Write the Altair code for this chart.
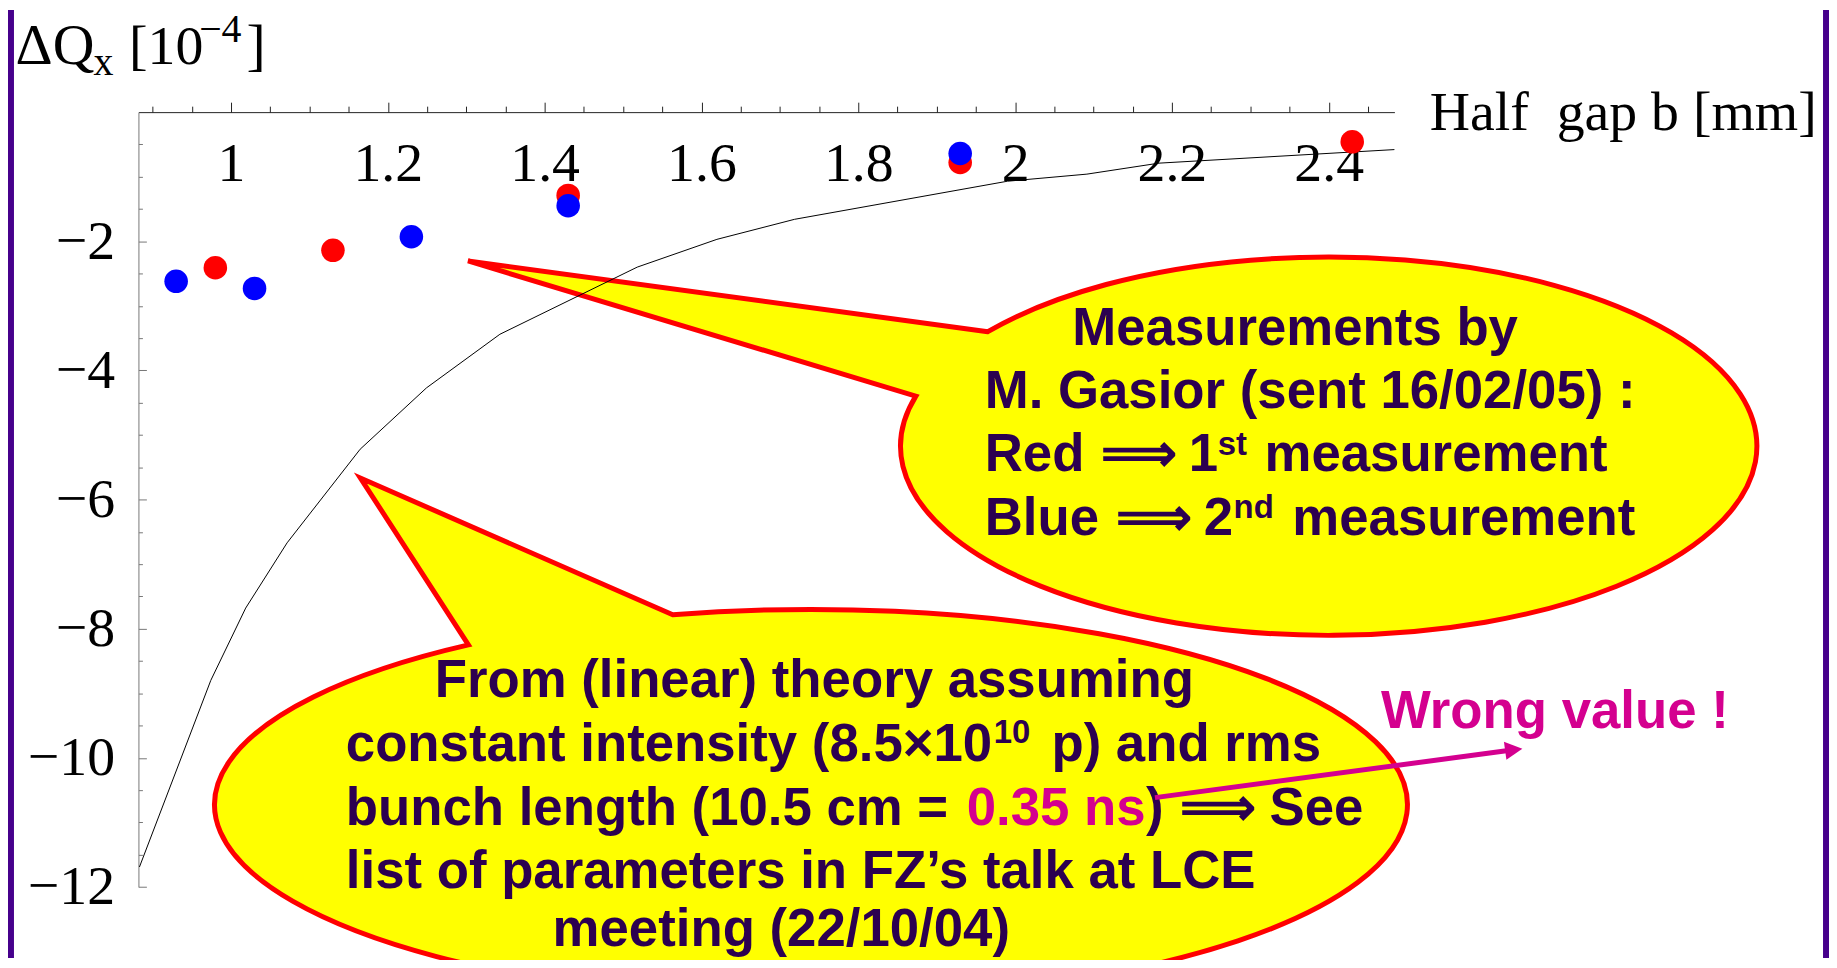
import math
import altair as alt
import pandas as pd

# ---------------- data ----------------
curve_b = [0.8832, 0.9742, 1.0187, 1.0715, 1.1647, 1.2493, 1.3429,
           1.5181, 1.6197, 1.7187, 1.9902, 2.0916, 2.1835, 2.4838]
curve_dq = [-11.69, -8.80, -7.68, -6.67, -5.22, -4.27, -3.44,
            -2.40, -1.97, -1.66, -1.07, -0.96, -0.79, -0.58]
red_b = [0.98, 1.13, 1.43, 1.93, 2.43]
red_dq = [-2.41, -2.14, -1.29, -0.78, -0.46]
blue_b = [0.93, 1.03, 1.23, 1.43, 1.93]
blue_dq = [-2.62, -2.73, -1.93, -1.45, -0.64]

x_major = [1.0, 1.2, 1.4, 1.6, 1.8, 2.0, 2.2, 2.4]
x_minor = [0.9, 0.95, 1.05, 1.1, 1.15, 1.25, 1.3, 1.35, 1.45, 1.5, 1.55,
           1.65, 1.7, 1.75, 1.85, 1.9, 1.95, 2.05, 2.1, 2.15, 2.25, 2.3,
           2.35, 2.45]
y_major = [-12, -10, -8, -6, -4, -2]
y_minor = [-11.5, -11, -10.5, -9.5, -9, -8.5, -7.5, -7, -6.5, -5.5, -5,
           -4.5, -3.5, -3, -2.5, -1.5, -1, -0.5]
x_domain = [0.8819, 2.4838]
y_domain = [-12, 0]

# ---------------- layout / styles ----------------
W, H = 1261.5, 778.3
TOTAL_W, TOTAL_H = 1829, 952
PAD_L, PAD_T = 131, 102.5
OX, OY = 8 + PAD_L, 8 + PAD_T   # page position of plot origin

SERIF = "Liberation Serif"
SANS = "Liberation Sans"
DARK = "#2C0050"
MAG = "#D4008F"
RED = "#FF0000"
YEL = "#FFFF00"
PURPLE = "#46008C"

curve_df = pd.DataFrame({"b": curve_b, "dq": curve_dq})
red_df = pd.DataFrame({"b": red_b, "dq": red_dq})
blue_df = pd.DataFrame({"b": blue_b, "dq": blue_dq})
dummy = alt.Data(values=[{"k": 0}])

xs = alt.Scale(domain=x_domain, nice=False, zero=False)
ys = alt.Scale(domain=y_domain, nice=False, zero=False)


def pos(px, py):
    return dict(x=alt.value(px - OX), y=alt.value(py - OY))


def txt(s, px, py, size, color=DARK, font=SANS, weight="bold"):
    return alt.Chart(dummy).mark_text(
        text=s, font=font, fontSize=size, fontWeight=weight, color=color,
        align="left", baseline="alphabetic"
    ).encode(**pos(px, py))


def bubble(cx, cy, rx, ry, tip, a_pt, b_pt, sweep):
    ta = math.atan2((a_pt[1] - cy) / ry, (a_pt[0] - cx) / rx)
    tb = math.atan2((b_pt[1] - cy) / ry, (b_pt[0] - cx) / rx)
    ax, ay = rx * math.cos(ta), ry * math.sin(ta)
    bx, by = rx * math.cos(tb), ry * math.sin(tb)
    tx, ty = tip[0] - cx, tip[1] - cy
    path = (f"M{ax:.2f},{ay:.2f}L{tx:.2f},{ty:.2f}L{bx:.2f},{by:.2f}"
            f"A{rx},{ry} 0 1 {sweep} {ax:.2f},{ay:.2f}Z")
    return alt.Chart(dummy).mark_point(
        shape=path, size=4, filled=True, fill=YEL, stroke=RED,
        strokeWidth=5, opacity=1
    ).encode(**pos(cx, cy))


layers = []

# purple side bands
layers.append(alt.Chart(dummy).mark_rect(color=PURPLE).encode(
    x=alt.value(8 - OX), x2=alt.value(14 - OX),
    y=alt.value(8 - OY), y2=alt.value(8 + TOTAL_H - OY)))
layers.append(alt.Chart(dummy).mark_rect(color=PURPLE).encode(
    x=alt.value(1831 - OX), x2=alt.value(1837 - OX),
    y=alt.value(8 - OY), y2=alt.value(8 + TOTAL_H - OY)))

# callout bubbles
layers.append(bubble(1334.5, 446, 430, 190, (470, 260), (989, 330), (918, 395.5), 0))
layers.append(bubble(814.5, 806, 599, 196, (362, 478), (465.6, 643.3), (672.3, 610.7), 1))

# upper bubble text
layers += [
    txt("Measurements by", 1077, 344, 53),
    txt("M. Gasior (sent 16/02/05) :", 989, 408, 53),
    txt("Red", 989, 471, 53),
    txt("\u27f9", 1106, 471, 53),
    txt("1", 1194, 471, 53),
    txt("st", 1223, 455, 33),
    txt("measurement", 1270, 471, 53),
    txt("Blue", 989, 535, 53),
    txt("\u27f9", 1121, 535, 53),
    txt("2", 1209, 535, 53),
    txt("nd", 1239, 518, 33),
    txt("measurement", 1298, 535, 53),
]

# lower bubble text
layers += [
    txt("From (linear) theory assuming", 436.6, 698.3, 53),
    txt("constant intensity (8.5\u00d710", 347.3, 762.5, 53),
    txt("10", 998, 744, 33),
    txt("p) and rms", 1056, 762.5, 53),
    txt("bunch length (10.5 cm =", 347.3, 826.7, 53),
    txt("0.35 ns", 971, 826.7, 53, color=MAG),
    txt(")", 1151, 826.7, 53),
    txt("\u27f9", 1185, 826.7, 53),
    txt("See", 1275, 826.7, 53),
    txt("list of parameters in FZ\u2019s talk at LCE", 347.3, 890, 53),
    txt("meeting (22/10/04)", 555, 948, 53),
]

# "Wrong value !" with arrow
layers.append(txt("Wrong value !", 1387, 729, 53, color=MAG))
layers.append(alt.Chart(dummy).mark_rule(color=MAG, strokeWidth=5).encode(
    x=alt.value(1160 - OX), y=alt.value(799 - OY),
    x2=alt.value(1513 - OX), y2=alt.value(752 - OY)))
layers.append(alt.Chart(dummy).mark_point(
    shape="M0,0L-16,11L-18.5,-7Z", size=4, filled=True, fill=MAG,
    strokeWidth=0, opacity=1).encode(**pos(1529, 750)))

# axis titles
layers += [
    txt("\u0394Q", 15.6, 61.7, 58, color="black", font=SERIF, weight="normal"),
    txt("x", 94, 73, 40, color="black", font=SERIF, weight="normal"),
    txt("[10", 129.5, 61.7, 56, color="black", font=SERIF, weight="normal"),
    txt("\u22124", 200, 40, 40, color="black", font=SERIF, weight="normal"),
    txt("]", 247.5, 61.7, 58, color="black", font=SERIF, weight="normal"),
    txt("Half\u00a0 gap b [mm]", 1436, 128, 56, color="black", font=SERIF, weight="normal"),
]

# theory curve + axes (major x ticks on top, y labels on the left)
curve = alt.Chart(curve_df).mark_line(color="black", strokeWidth=1).encode(
    x=alt.X("b:Q", scale=xs, axis=alt.Axis(
        orient="top", values=x_major, tickSize=10, tickColor="#222",
        domainColor="#222", labels=False, grid=False, title=None)),
    y=alt.Y("dq:Q", scale=ys, axis=alt.Axis(
        orient="left", values=y_major, ticks=False, tickSize=0,
        labelPadding=24, labelFont=SERIF, labelFontSize=56,
        labelColor="black", format="d", labelFlush=False,
        labelOverlap=False, domainColor="#777", grid=False, title=None)),
)

red = alt.Chart(red_df).mark_circle(color=RED, size=560, opacity=1).encode(
    x=alt.X("b:Q", scale=xs, axis=alt.Axis(
        orient="top", values=x_minor, tickSize=6, tickColor="#222",
        labels=False, domain=False, grid=False, title=None)),
    y=alt.Y("dq:Q", scale=ys, axis=alt.Axis(
        orient="right", offset=-W, values=y_major, tickSize=8,
        tickColor="#777", labels=False, domain=False, grid=False, title=None)),
)

blue = alt.Chart(blue_df).mark_circle(color="#0000FF", size=560, opacity=1).encode(
    x=alt.X("b:Q", scale=xs, axis=alt.Axis(
        orient="bottom", offset=-H, values=x_major, ticks=False, tickSize=0,
        labelPadding=69, labelBaseline="alphabetic", labelFont=SERIF,
        labelFontSize=56, labelColor="black", format="~g",
        labelFlush=False, labelOverlap=False, domain=False, grid=False,
        title=None)),
    y=alt.Y("dq:Q", scale=ys, axis=alt.Axis(
        orient="right", offset=-W, values=y_minor, tickSize=4,
        tickColor="#777", labels=False, domain=False, grid=False, title=None)),
)

layers += [curve, red, blue]

chart = alt.layer(*layers).resolve_axis(
    x="independent", y="independent"
).properties(
    width=W, height=H,
    padding={"left": PAD_L, "top": PAD_T,
             "right": TOTAL_W - PAD_L - W, "bottom": TOTAL_H - PAD_T - H},
    autosize=alt.AutoSizeParams(type="none"),
    background="white",
).configure_view(stroke=None)

chart.save("out.html", embed_options={"renderer": "svg", "actions": False})
